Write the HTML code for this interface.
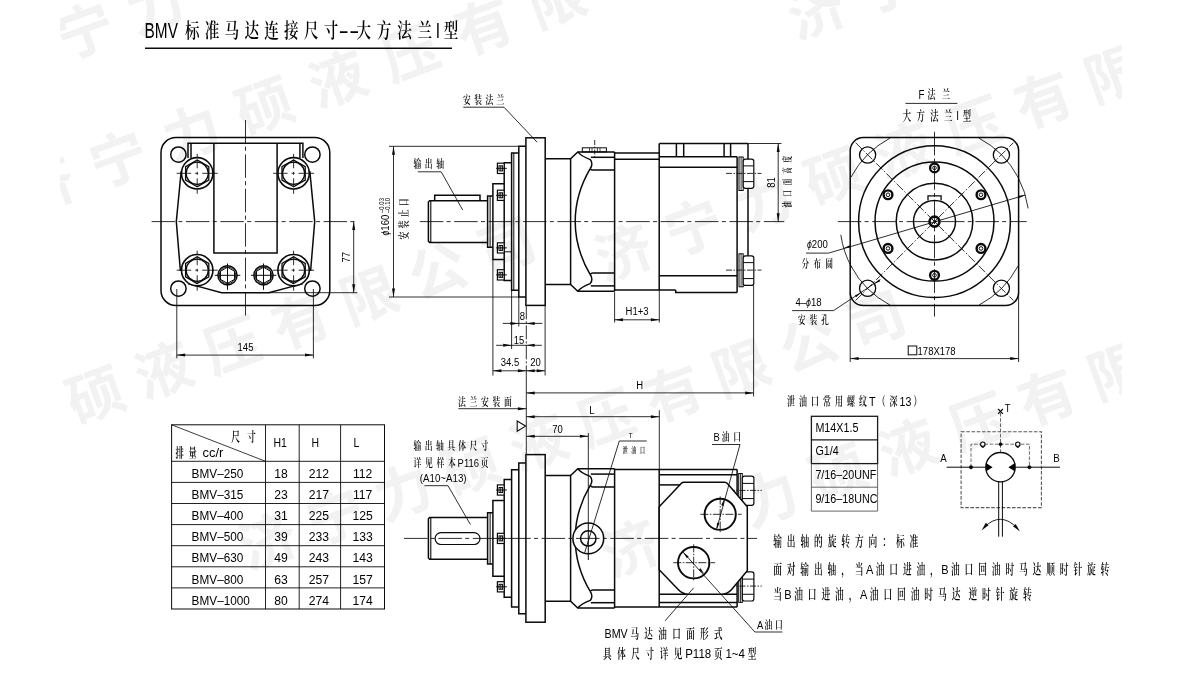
<!DOCTYPE html>
<html lang="zh-CN">
<head>
<meta charset="utf-8">
<title>BMV 标准马达连接尺寸--大方法兰I型</title>
<style>
html,body{margin:0;padding:0;background:#fff;}
body{width:1183px;height:686px;overflow:hidden;}
svg{display:block;filter:grayscale(1);}
text{white-space:pre;}
</style>
</head>
<body>
<svg width="1183" height="686" viewBox="0 0 1183 686">
<rect x="0" y="0" width="1183" height="686" fill="#fff"/>
<defs><clipPath id="wmclip"><rect x="60" y="0" width="1062" height="686"/></clipPath></defs>
<g id="wm" clip-path="url(#wmclip)">
<text transform="translate(-4.37,85.6) rotate(-20.0)" x="0 74.49 148.98" y="0" font-family='"Liberation Sans","Noto Sans CJK SC",sans-serif' font-weight="700" font-size="57" fill="#f2f2f2">济宁力</text>
<text transform="translate(26.13,215.1) rotate(-20.0)" x="0 77.68 155.37 233.05 310.74 388.42 466.11 543.79" y="0" font-family='"Liberation Sans","Noto Sans CJK SC",sans-serif' font-weight="700" font-size="57" fill="#f2f2f2">济宁力硕液压有限</text>
<text transform="translate(-129.87,499.5) rotate(-20.0)" x="0 72.9 145.79 218.69 291.58 364.48 437.38 510.27 583.17 656.07" y="0" font-family='"Liberation Sans","Noto Sans CJK SC",sans-serif' font-weight="700" font-size="57" fill="#f2f2f2">济宁力硕液压有限公司</text>
<text transform="translate(604.13,282.1) rotate(-20.0)" x="0 74.49 148.98 223.48 297.97 372.46 446.95 521.45" y="0" font-family='"Liberation Sans","Noto Sans CJK SC",sans-serif' font-weight="700" font-size="57" fill="#f2f2f2">济宁力硕液压有限</text>
<text transform="translate(248.33,570.3) rotate(-20.0)" x="0 71.94 143.88 215.82 287.75 359.69 431.63 503.57 575.51 647.45" y="0" font-family='"Liberation Sans","Noto Sans CJK SC",sans-serif' font-weight="700" font-size="57" fill="#f2f2f2">济宁力硕液压有限公司</text>
<text transform="translate(610.63,578.1) rotate(-20.0)" x="0 73.96 147.92 221.88 295.84 369.8 443.76 517.72" y="0" font-family='"Liberation Sans","Noto Sans CJK SC",sans-serif' font-weight="700" font-size="57" fill="#f2f2f2">济宁力硕液压有限</text>
<text transform="translate(796.63,40.1) rotate(-20.0)" x="0 74.49" y="0" font-family='"Liberation Sans","Noto Sans CJK SC",sans-serif' font-weight="700" font-size="57" fill="#f2f2f2">济宁</text>
</g>
<g transform="translate(144.6,38.2)"><text transform="translate(0,0) scale(0.7,1)" x="0" y="0" font-family='"Liberation Sans","Noto Sans CJK SC",sans-serif' font-size="22" fill="#000">BMV </text><text transform="scale(0.7,1)" x="57.56 85.9 114.24 142.59 170.93 199.27 227.61 255.95" y="0" font-family='"Liberation Serif","Noto Serif CJK SC",serif' font-size="20.8" font-weight="600" fill="#000">标准马达连接尺寸</text></g>
<text transform="translate(338.6,38.2) scale(1.42,1)" text-anchor="start" font-family='"Liberation Sans","Noto Sans CJK SC",sans-serif' font-size="22" fill="#000">--</text>
<g transform="translate(357.2,38.2)"><text transform="scale(0.7,1)" x="-1.04 28.04 57.12 86.19" y="0" font-family='"Liberation Serif","Noto Serif CJK SC",serif' font-size="20.8" font-weight="600" fill="#000">大方法兰</text><text transform="translate(78.59,0) scale(0.7,1)" x="0" y="0" font-family='"Liberation Sans","Noto Sans CJK SC",sans-serif' font-size="22" fill="#000">I</text><text transform="scale(0.7,1)" x="123.67" y="0" font-family='"Liberation Serif","Noto Serif CJK SC",serif' font-size="20.8" font-weight="600" fill="#000">型</text></g>
<line x1="145" y1="48.3" x2="452" y2="48.3" stroke="#0a0a0a" stroke-width="1.6" stroke-linecap="butt"/>
<g id="leftview">
<rect x="161" y="137.5" width="168.8" height="168" rx="15" fill="none" stroke="#0a0a0a" stroke-width="1.5"/>
<circle cx="178.4" cy="154.6" r="7.7" fill="none" stroke="#0a0a0a" stroke-width="1.5"/>
<circle cx="178.4" cy="288.6" r="7.7" fill="none" stroke="#0a0a0a" stroke-width="1.5"/>
<circle cx="312.4" cy="154.6" r="7.7" fill="none" stroke="#0a0a0a" stroke-width="1.5"/>
<circle cx="312.4" cy="288.6" r="7.7" fill="none" stroke="#0a0a0a" stroke-width="1.5"/>
<polyline points="188,158 188,143.3 302.9,143.3 302.9,158" fill="none" stroke="#0a0a0a" stroke-width="1.5" stroke-linejoin="miter"/>
<line x1="191" y1="143.3" x2="191" y2="158" stroke="#0a0a0a" stroke-width="1.5" stroke-linecap="butt"/>
<line x1="299.9" y1="143.3" x2="299.9" y2="158" stroke="#0a0a0a" stroke-width="1.5" stroke-linecap="butt"/>
<polyline points="213.9,143.3 213.9,252.9 277.1,252.9 277.1,143.3" fill="none" stroke="#0a0a0a" stroke-width="1.5" stroke-linejoin="miter"/>
<polyline points="181.2,171 176.3,221.6 180.4,271" fill="none" stroke="#0a0a0a" stroke-width="1.5" stroke-linejoin="miter"/>
<polyline points="309.8,171 314.7,221.6 310.6,271" fill="none" stroke="#0a0a0a" stroke-width="1.5" stroke-linejoin="miter"/>
<polyline points="188,283.6 221.6,292.7 268.8,292.7 303,283.6" fill="none" stroke="#0a0a0a" stroke-width="1.5" stroke-linejoin="miter"/>
<circle cx="197.2" cy="173.3" r="15.7" fill="#fff" stroke="#0a0a0a" stroke-width="1.6"/>
<polygon points="197.2,186.7 185.6,180 185.6,166.6 197.2,159.9 208.8,166.6 208.8,180" fill="none" stroke="#0a0a0a" stroke-width="1.3" stroke-linejoin="miter"/>
<circle cx="197.2" cy="173.3" r="11.1" fill="none" stroke="#0a0a0a" stroke-width="1.3"/>
<line x1="176.7" y1="173.3" x2="217.7" y2="173.3" stroke="#0a0a0a" stroke-width="0.85" stroke-dasharray="14.5 4 3 4 15.5" stroke-linecap="butt"/>
<line x1="197.2" y1="153.8" x2="197.2" y2="193.8" stroke="#0a0a0a" stroke-width="0.85" stroke-dasharray="4 2 8.5 3.5 3 3.5 8.5 2 5" stroke-linecap="butt"/>
<circle cx="197.2" cy="270.2" r="15.7" fill="#fff" stroke="#0a0a0a" stroke-width="1.6"/>
<polygon points="197.2,283.6 185.6,276.9 185.6,263.5 197.2,256.8 208.8,263.5 208.8,276.9" fill="none" stroke="#0a0a0a" stroke-width="1.3" stroke-linejoin="miter"/>
<circle cx="197.2" cy="270.2" r="11.1" fill="none" stroke="#0a0a0a" stroke-width="1.3"/>
<line x1="176.7" y1="270.2" x2="217.7" y2="270.2" stroke="#0a0a0a" stroke-width="0.85" stroke-dasharray="14.5 4 3 4 15.5" stroke-linecap="butt"/>
<line x1="197.2" y1="250.7" x2="197.2" y2="290.7" stroke="#0a0a0a" stroke-width="0.85" stroke-dasharray="4 2 8.5 3.5 3 3.5 8.5 2 5" stroke-linecap="butt"/>
<circle cx="293.6" cy="173.3" r="15.7" fill="#fff" stroke="#0a0a0a" stroke-width="1.6"/>
<polygon points="293.6,186.7 282,180 282,166.6 293.6,159.9 305.2,166.6 305.2,180" fill="none" stroke="#0a0a0a" stroke-width="1.3" stroke-linejoin="miter"/>
<circle cx="293.6" cy="173.3" r="11.1" fill="none" stroke="#0a0a0a" stroke-width="1.3"/>
<line x1="273.1" y1="173.3" x2="314.1" y2="173.3" stroke="#0a0a0a" stroke-width="0.85" stroke-dasharray="14.5 4 3 4 15.5" stroke-linecap="butt"/>
<line x1="293.6" y1="153.8" x2="293.6" y2="193.8" stroke="#0a0a0a" stroke-width="0.85" stroke-dasharray="4 2 8.5 3.5 3 3.5 8.5 2 5" stroke-linecap="butt"/>
<circle cx="293.6" cy="270.2" r="15.7" fill="#fff" stroke="#0a0a0a" stroke-width="1.6"/>
<polygon points="293.6,283.6 282,276.9 282,263.5 293.6,256.8 305.2,263.5 305.2,276.9" fill="none" stroke="#0a0a0a" stroke-width="1.3" stroke-linejoin="miter"/>
<circle cx="293.6" cy="270.2" r="11.1" fill="none" stroke="#0a0a0a" stroke-width="1.3"/>
<line x1="273.1" y1="270.2" x2="314.1" y2="270.2" stroke="#0a0a0a" stroke-width="0.85" stroke-dasharray="14.5 4 3 4 15.5" stroke-linecap="butt"/>
<line x1="293.6" y1="250.7" x2="293.6" y2="290.7" stroke="#0a0a0a" stroke-width="0.85" stroke-dasharray="4 2 8.5 3.5 3 3.5 8.5 2 5" stroke-linecap="butt"/>
<circle cx="227.5" cy="275.3" r="9.6" fill="#fff" stroke="#0a0a0a" stroke-width="1.5"/>
<circle cx="227.5" cy="275.3" r="8.3" fill="none" stroke="#0a0a0a" stroke-width="0.9"/>
<polygon points="227.5,283.4 220.49,279.35 220.49,271.25 227.5,267.2 234.51,271.25 234.51,279.35" fill="none" stroke="#0a0a0a" stroke-width="1.0" stroke-linejoin="miter"/>
<line x1="214.9" y1="275.3" x2="240.3" y2="275.3" stroke="#0a0a0a" stroke-width="1.0" stroke-linecap="butt"/>
<line x1="227.5" y1="263.5" x2="227.5" y2="289.8" stroke="#0a0a0a" stroke-width="1.0" stroke-linecap="butt"/>
<circle cx="263.5" cy="275.3" r="9.6" fill="#fff" stroke="#0a0a0a" stroke-width="1.5"/>
<circle cx="263.5" cy="275.3" r="8.3" fill="none" stroke="#0a0a0a" stroke-width="0.9"/>
<polygon points="263.5,283.4 256.49,279.35 256.49,271.25 263.5,267.2 270.51,271.25 270.51,279.35" fill="none" stroke="#0a0a0a" stroke-width="1.0" stroke-linejoin="miter"/>
<line x1="250.9" y1="275.3" x2="276.3" y2="275.3" stroke="#0a0a0a" stroke-width="1.0" stroke-linecap="butt"/>
<line x1="263.5" y1="263.5" x2="263.5" y2="289.8" stroke="#0a0a0a" stroke-width="1.0" stroke-linecap="butt"/>
<line x1="245.5" y1="120" x2="245.5" y2="318" stroke="#0a0a0a" stroke-width="0.85" stroke-dasharray="23.5 3.3 4 3.6" stroke-linecap="butt"/>
<line x1="151.6" y1="221.6" x2="357" y2="221.6" stroke="#0a0a0a" stroke-width="0.85" stroke-dasharray="23.5 3.3 4 3.6" stroke-linecap="butt"/>
<line x1="268.8" y1="292.7" x2="357.3" y2="292.7" stroke="#0a0a0a" stroke-width="0.85" stroke-linecap="butt"/>
<line x1="353.7" y1="221.6" x2="353.7" y2="292.7" stroke="#0a0a0a" stroke-width="0.85" stroke-linecap="butt"/>
<polygon points="353.7,221.6 355.2,230 352.2,230" fill="#0a0a0a"/>
<polygon points="353.7,292.7 352.2,284.3 355.2,284.3" fill="#0a0a0a"/>
<text transform="translate(350.2,257.2) rotate(-90) scale(0.84,1)" text-anchor="middle" font-family='"Liberation Sans","Noto Sans CJK SC",sans-serif' font-size="11.3" fill="#000">77</text>
<line x1="176.8" y1="289" x2="176.8" y2="358.3" stroke="#0a0a0a" stroke-width="0.85" stroke-linecap="butt"/>
<line x1="313.4" y1="289" x2="313.4" y2="358.3" stroke="#0a0a0a" stroke-width="0.85" stroke-linecap="butt"/>
<line x1="176.8" y1="355.1" x2="313.4" y2="355.1" stroke="#0a0a0a" stroke-width="0.85" stroke-linecap="butt"/>
<polygon points="176.8,355.1 185.2,353.6 185.2,356.6" fill="#0a0a0a"/>
<polygon points="313.4,355.1 305,356.6 305,353.6" fill="#0a0a0a"/>
<text transform="translate(245.5,350.6) scale(0.84,1)" text-anchor="middle" font-family='"Liberation Sans","Noto Sans CJK SC",sans-serif' font-size="11.3" fill="#000">145</text>
</g>
<g id="sidetop">
<polyline points="487.6,200.8 429.6,200.8 428.4,202 428.4,241.2 429.6,242.4 487.6,242.4" fill="none" stroke="#0a0a0a" stroke-width="1.5" stroke-linejoin="miter"/>
<line x1="430.8" y1="200.8" x2="430.8" y2="242.4" stroke="#0a0a0a" stroke-width="1.1" stroke-linecap="butt"/>
<polyline points="492.9,195.9 487.6,195.9 487.6,247.3 492.9,247.3" fill="none" stroke="#0a0a0a" stroke-width="1.5" stroke-linejoin="miter"/>
<line x1="490.1" y1="195.9" x2="490.1" y2="247.3" stroke="#0a0a0a" stroke-width="1.0" stroke-linecap="butt"/>
<polyline points="504.2,183.7 492.9,183.7 492.9,259.5 504.2,259.5" fill="none" stroke="#0a0a0a" stroke-width="1.5" stroke-linejoin="miter"/>
<polyline points="511.6,162.7 504.2,162.7 504.2,280.5 511.6,280.5" fill="none" stroke="#0a0a0a" stroke-width="1.5" stroke-linejoin="miter"/>
<polyline points="518.8,153 511.6,153 511.6,290.2 518.8,290.2" fill="none" stroke="#0a0a0a" stroke-width="1.5" stroke-linejoin="miter"/>
<line x1="513.8" y1="153" x2="513.8" y2="290.2" stroke="#0a0a0a" stroke-width="1.0" stroke-linecap="butt"/>
<polyline points="525.9,146.3 518.8,146.3 518.8,296.9 525.9,296.9" fill="none" stroke="#0a0a0a" stroke-width="1.5" stroke-linejoin="miter"/>
<rect x="525.9" y="137.8" width="19.3" height="167.6" rx="0" fill="none" stroke="#0a0a0a" stroke-width="1.5"/>
<polyline points="545.2,158.8 570.6,158.8 577.8,151.9 614.6,151.9" fill="none" stroke="#0a0a0a" stroke-width="1.5" stroke-linejoin="miter"/>
<polyline points="545.2,284.4 570.6,284.4 577.8,291.3 614.6,291.3" fill="none" stroke="#0a0a0a" stroke-width="1.5" stroke-linejoin="miter"/>
<line x1="570.6" y1="158.8" x2="570.6" y2="284.4" stroke="#0a0a0a" stroke-width="1.5" stroke-linecap="butt"/>
<line x1="614.6" y1="151.9" x2="614.6" y2="291.3" stroke="#0a0a0a" stroke-width="1.5" stroke-linecap="butt"/>
<path d="M577.8,151.9 C581,156 586,158 590.2,159.6 C592.4,162 592.4,166 590.2,168.6" fill="none" stroke="#0a0a0a" stroke-width="1.5"/>
<line x1="590.8" y1="157.3" x2="614.6" y2="157.3" stroke="#0a0a0a" stroke-width="1.5" stroke-linecap="butt"/>
<path d="M590.2,168.6 Q591,170.1 593,170.1 L614.6,170.1" fill="none" stroke="#0a0a0a" stroke-width="1.5"/>
<path d="M577.8,291.3 C581,287.2 586,285.2 590.2,283.6 C592.4,281.2 592.4,277.2 590.2,274.6" fill="none" stroke="#0a0a0a" stroke-width="1.5"/>
<line x1="590.8" y1="285.9" x2="614.6" y2="285.9" stroke="#0a0a0a" stroke-width="1.5" stroke-linecap="butt"/>
<path d="M590.2,274.6 Q591,273.1 593,273.1 L614.6,273.1" fill="none" stroke="#0a0a0a" stroke-width="1.5"/>
<path d="M590.2,168.6 C580,186 575.2,205 575.2,221.6 C575.2,238.2 580,257.2 590.2,274.6" fill="none" stroke="#0a0a0a" stroke-width="1.5"/>
<polyline points="434.7,200.8 434.7,195.3 480,195.3 480,200.8" fill="none" stroke="#0a0a0a" stroke-width="1.5" stroke-linejoin="miter"/>
<rect x="497.4" y="163.2" width="6.8" height="10.3" rx="0" fill="#fff" stroke="#0a0a0a" stroke-width="1.2"/>
<rect x="499" y="165.8" width="3.6" height="5.1" rx="0" fill="none" stroke="#0a0a0a" stroke-width="1.0"/>
<line x1="496.2" y1="168.35" x2="506.8" y2="168.35" stroke="#0a0a0a" stroke-width="1.0" stroke-linecap="butt"/>
<line x1="500.8" y1="165.8" x2="500.8" y2="170.9" stroke="#0a0a0a" stroke-width="1.0" stroke-linecap="butt"/>
<rect x="497.4" y="190.2" width="6.8" height="10.2" rx="0" fill="#fff" stroke="#0a0a0a" stroke-width="1.2"/>
<rect x="499" y="192.8" width="3.6" height="5" rx="0" fill="none" stroke="#0a0a0a" stroke-width="1.0"/>
<line x1="496.2" y1="195.3" x2="506.8" y2="195.3" stroke="#0a0a0a" stroke-width="1.0" stroke-linecap="butt"/>
<line x1="500.8" y1="192.8" x2="500.8" y2="197.8" stroke="#0a0a0a" stroke-width="1.0" stroke-linecap="butt"/>
<rect x="497.4" y="242.8" width="6.8" height="10.2" rx="0" fill="#fff" stroke="#0a0a0a" stroke-width="1.2"/>
<rect x="499" y="245.4" width="3.6" height="5" rx="0" fill="none" stroke="#0a0a0a" stroke-width="1.0"/>
<line x1="496.2" y1="247.9" x2="506.8" y2="247.9" stroke="#0a0a0a" stroke-width="1.0" stroke-linecap="butt"/>
<line x1="500.8" y1="245.4" x2="500.8" y2="250.4" stroke="#0a0a0a" stroke-width="1.0" stroke-linecap="butt"/>
<rect x="497.4" y="269.7" width="6.8" height="10.3" rx="0" fill="#fff" stroke="#0a0a0a" stroke-width="1.2"/>
<rect x="499" y="272.3" width="3.6" height="5.1" rx="0" fill="none" stroke="#0a0a0a" stroke-width="1.0"/>
<line x1="496.2" y1="274.85" x2="506.8" y2="274.85" stroke="#0a0a0a" stroke-width="1.0" stroke-linecap="butt"/>
<line x1="500.8" y1="272.3" x2="500.8" y2="277.4" stroke="#0a0a0a" stroke-width="1.0" stroke-linecap="butt"/>
<line x1="504.2" y1="251.8" x2="511.6" y2="251.8" stroke="#0a0a0a" stroke-width="1.0" stroke-linecap="butt"/>
<rect x="582.3" y="147.8" width="24.1" height="4.1" rx="0" fill="none" stroke="#0a0a0a" stroke-width="1.0"/>
<line x1="589.5" y1="148" x2="589.5" y2="151.9" stroke="#0a0a0a" stroke-width="0.7" stroke-linecap="butt"/>
<line x1="592" y1="148" x2="592" y2="151.9" stroke="#0a0a0a" stroke-width="0.7" stroke-linecap="butt"/>
<line x1="597.4" y1="148" x2="597.4" y2="151.9" stroke="#0a0a0a" stroke-width="0.7" stroke-linecap="butt"/>
<line x1="600" y1="148" x2="600" y2="151.9" stroke="#0a0a0a" stroke-width="0.7" stroke-linecap="butt"/>
<line x1="594.7" y1="140" x2="594.7" y2="158.5" stroke="#0a0a0a" stroke-width="0.85" stroke-dasharray="5 1.5 1.5 1.5" stroke-linecap="butt"/>
<line x1="614.6" y1="153" x2="659.2" y2="153" stroke="#0a0a0a" stroke-width="1.5" stroke-linecap="butt"/>
<line x1="614.6" y1="159.2" x2="659.2" y2="159.2" stroke="#0a0a0a" stroke-width="1.5" stroke-linecap="butt"/>
<line x1="614.6" y1="290.1" x2="675.7" y2="290.1" stroke="#0a0a0a" stroke-width="1.5" stroke-linecap="butt"/>
<polyline points="675.7,290.1 675.7,292.6 737.1,292.6" fill="none" stroke="#0a0a0a" stroke-width="1.5" stroke-linejoin="miter"/>
<line x1="659.2" y1="143.5" x2="659.2" y2="290.1" stroke="#0a0a0a" stroke-width="1.5" stroke-linecap="butt"/>
<polyline points="659.2,143.5 748,143.5" fill="none" stroke="#0a0a0a" stroke-width="1.5" stroke-linejoin="miter"/>
<line x1="676.4" y1="143.5" x2="676.4" y2="156.7" stroke="#0a0a0a" stroke-width="1.5" stroke-linecap="butt"/>
<line x1="683.7" y1="143.5" x2="683.7" y2="156.7" stroke="#0a0a0a" stroke-width="1.5" stroke-linecap="butt"/>
<line x1="724.1" y1="143.5" x2="724.1" y2="156.7" stroke="#0a0a0a" stroke-width="1.5" stroke-linecap="butt"/>
<line x1="730.6" y1="143.5" x2="730.6" y2="156.7" stroke="#0a0a0a" stroke-width="1.5" stroke-linecap="butt"/>
<line x1="659.2" y1="156.7" x2="737.1" y2="156.7" stroke="#0a0a0a" stroke-width="1.5" stroke-linecap="butt"/>
<line x1="659.2" y1="167.2" x2="737.1" y2="167.2" stroke="#0a0a0a" stroke-width="1.5" stroke-linecap="butt"/>
<line x1="737.1" y1="156.7" x2="737.1" y2="292.6" stroke="#0a0a0a" stroke-width="1.5" stroke-linecap="butt"/>
<line x1="748" y1="143.5" x2="748" y2="256" stroke="#0a0a0a" stroke-width="1.5" stroke-linecap="butt"/>
<line x1="659.2" y1="275.8" x2="737.1" y2="275.8" stroke="#0a0a0a" stroke-width="1.5" stroke-linecap="butt"/>
<rect x="739" y="157" width="4.2" height="33.5" rx="0" fill="#fff" stroke="#0a0a0a" stroke-width="1.0"/>
<line x1="741.1" y1="157" x2="741.1" y2="190.5" stroke="#0a0a0a" stroke-width="0.8" stroke-linecap="butt"/>
<rect x="743.2" y="159.2" width="10.6" height="29.1" rx="2.2" fill="#fff" stroke="#0a0a0a" stroke-width="1.2"/>
<line x1="743.2" y1="165.89" x2="753.8" y2="165.89" stroke="#0a0a0a" stroke-width="1.0" stroke-linecap="butt"/>
<line x1="743.2" y1="181.61" x2="753.8" y2="181.61" stroke="#0a0a0a" stroke-width="1.0" stroke-linecap="butt"/>
<line x1="726" y1="173.4" x2="761.5" y2="173.4" stroke="#0a0a0a" stroke-width="0.85" stroke-dasharray="6 1.5 1.5 1.5" stroke-linecap="butt"/>
<rect x="739" y="253.8" width="4.2" height="33" rx="0" fill="#fff" stroke="#0a0a0a" stroke-width="1.0"/>
<line x1="741.1" y1="253.8" x2="741.1" y2="286.8" stroke="#0a0a0a" stroke-width="0.8" stroke-linecap="butt"/>
<rect x="743.2" y="255.8" width="10.6" height="29.6" rx="2.2" fill="#fff" stroke="#0a0a0a" stroke-width="1.2"/>
<line x1="743.2" y1="262.61" x2="753.8" y2="262.61" stroke="#0a0a0a" stroke-width="1.0" stroke-linecap="butt"/>
<line x1="743.2" y1="278.59" x2="753.8" y2="278.59" stroke="#0a0a0a" stroke-width="1.0" stroke-linecap="butt"/>
<line x1="726" y1="270.1" x2="761.5" y2="270.1" stroke="#0a0a0a" stroke-width="0.85" stroke-dasharray="6 1.5 1.5 1.5" stroke-linecap="butt"/>
<line x1="419.8" y1="221.6" x2="784.3" y2="221.6" stroke="#0a0a0a" stroke-width="0.85" stroke-dasharray="23.5 3.3 4 3.6" stroke-linecap="butt"/>
<g transform="translate(463.4,104.4)"><text transform="scale(0.66,1)" x="-0.59 16.38 33.34 50.31" y="0" font-family='"Liberation Serif","Noto Serif CJK SC",serif' font-size="11.8" font-weight="600" fill="#000">安装法兰</text></g>
<polyline points="463.3,107.2 504,107.2 537.1,142.2" fill="none" stroke="#0a0a0a" stroke-width="0.85" stroke-linejoin="miter"/>
<g transform="translate(413.8,168.2)"><text transform="scale(0.66,1)" x="-0.59 16.68 33.94" y="0" font-family='"Liberation Serif","Noto Serif CJK SC",serif' font-size="11.8" font-weight="600" fill="#000">输出轴</text></g>
<polyline points="417.8,171.8 441.2,171.8 462.7,210" fill="none" stroke="#0a0a0a" stroke-width="0.85" stroke-linejoin="miter"/>
<line x1="389" y1="146.3" x2="518.8" y2="146.3" stroke="#0a0a0a" stroke-width="0.85" stroke-linecap="butt"/>
<line x1="389" y1="297" x2="518.8" y2="297" stroke="#0a0a0a" stroke-width="0.85" stroke-linecap="butt"/>
<line x1="393.5" y1="146.3" x2="393.5" y2="297" stroke="#0a0a0a" stroke-width="0.85" stroke-linecap="butt"/>
<polygon points="393.5,146.3 395,154.7 392,154.7" fill="#0a0a0a"/>
<polygon points="393.5,297 392,288.6 395,288.6" fill="#0a0a0a"/>
<text transform="translate(388.8,235.6) rotate(-90) scale(0.88,1)" font-family='"Liberation Sans","Noto Sans CJK SC",sans-serif' font-size="10.9" fill="#000"><tspan font-style="italic" font-size="10.03">ϕ</tspan>160</text>
<text transform="translate(384.2,213) rotate(-90) scale(0.86,1)" text-anchor="start" font-family='"Liberation Sans","Noto Sans CJK SC",sans-serif' font-size="7" fill="#000">–0.03</text>
<text transform="translate(390.4,213) rotate(-90) scale(0.86,1)" text-anchor="start" font-family='"Liberation Sans","Noto Sans CJK SC",sans-serif' font-size="7" fill="#000">–0.10</text>
<g transform="translate(407.8,239) rotate(-90)"><text transform="scale(0.66,1)" x="-0.59 16.17 32.94 49.7" y="0" font-family='"Liberation Serif","Noto Serif CJK SC",serif' font-size="11.8" font-weight="600" fill="#000">安装止口</text></g>
<line x1="748" y1="143.5" x2="781.5" y2="143.5" stroke="#0a0a0a" stroke-width="0.85" stroke-linecap="butt"/>
<line x1="778.2" y1="143.5" x2="778.2" y2="221.6" stroke="#0a0a0a" stroke-width="0.85" stroke-linecap="butt"/>
<polygon points="778.2,143.5 779.7,151.9 776.7,151.9" fill="#0a0a0a"/>
<polygon points="778.2,221.6 776.7,213.2 779.7,213.2" fill="#0a0a0a"/>
<text transform="translate(775,182.5) rotate(-90) scale(0.84,1)" text-anchor="middle" font-family='"Liberation Sans","Noto Sans CJK SC",sans-serif' font-size="11.3" fill="#000">81</text>
<g transform="translate(791.2,207.4) rotate(-90)"><text transform="scale(0.62,1)" x="-0.52 17.7 35.93 54.15 72.38" y="0" font-family='"Liberation Serif","Noto Serif CJK SC",serif' font-size="10.4" font-weight="600" fill="#000">油口面高度</text></g>
<line x1="492.9" y1="259.5" x2="492.9" y2="375.5" stroke="#0a0a0a" stroke-width="0.85" stroke-linecap="butt"/>
<line x1="511.6" y1="290.2" x2="511.6" y2="349" stroke="#0a0a0a" stroke-width="0.85" stroke-linecap="butt"/>
<line x1="518.8" y1="297" x2="518.8" y2="326.5" stroke="#0a0a0a" stroke-width="0.85" stroke-linecap="butt"/>
<line x1="545.1" y1="305.4" x2="545.1" y2="375.5" stroke="#0a0a0a" stroke-width="0.85" stroke-linecap="butt"/>
<line x1="502.8" y1="323.4" x2="542.3" y2="323.4" stroke="#0a0a0a" stroke-width="0.85" stroke-linecap="butt"/>
<polygon points="518.8,323.4 510.4,324.9 510.4,321.9" fill="#0a0a0a"/>
<polygon points="526.3,323.4 534.7,321.9 534.7,324.9" fill="#0a0a0a"/>
<text transform="translate(522.4,320.2) scale(0.84,1)" text-anchor="middle" font-family='"Liberation Sans","Noto Sans CJK SC",sans-serif' font-size="11.3" fill="#000">8</text>
<line x1="496.1" y1="345.3" x2="541.8" y2="345.3" stroke="#0a0a0a" stroke-width="0.85" stroke-linecap="butt"/>
<polygon points="511.6,345.3 503.2,346.8 503.2,343.8" fill="#0a0a0a"/>
<polygon points="526.3,345.3 534.7,343.8 534.7,346.8" fill="#0a0a0a"/>
<text transform="translate(518.9,343.6) scale(0.84,1)" text-anchor="middle" font-family='"Liberation Sans","Noto Sans CJK SC",sans-serif' font-size="11.3" fill="#000">15</text>
<line x1="493" y1="370.8" x2="545.1" y2="370.8" stroke="#0a0a0a" stroke-width="0.85" stroke-linecap="butt"/>
<polygon points="493,370.8 501.4,369.3 501.4,372.3" fill="#0a0a0a"/>
<polygon points="526.3,370.8 517.9,372.3 517.9,369.3" fill="#0a0a0a"/>
<polygon points="526.3,370.8 534.7,369.3 534.7,372.3" fill="#0a0a0a"/>
<polygon points="545.1,370.8 536.7,372.3 536.7,369.3" fill="#0a0a0a"/>
<text transform="translate(510,366.4) scale(0.84,1)" text-anchor="middle" font-family='"Liberation Sans","Noto Sans CJK SC",sans-serif' font-size="11.3" fill="#000">34.5</text>
<text transform="translate(535.6,366.4) scale(0.84,1)" text-anchor="middle" font-family='"Liberation Sans","Noto Sans CJK SC",sans-serif' font-size="11.3" fill="#000">20</text>
<line x1="614.6" y1="292.1" x2="614.6" y2="322.5" stroke="#0a0a0a" stroke-width="0.85" stroke-linecap="butt"/>
<line x1="659.3" y1="290.1" x2="659.3" y2="322.5" stroke="#0a0a0a" stroke-width="0.85" stroke-linecap="butt"/>
<line x1="614.6" y1="319.8" x2="659.3" y2="319.8" stroke="#0a0a0a" stroke-width="0.85" stroke-linecap="butt"/>
<polygon points="614.6,319.8 623,318.3 623,321.3" fill="#0a0a0a"/>
<polygon points="659.3,319.8 650.9,321.3 650.9,318.3" fill="#0a0a0a"/>
<text transform="translate(637,315.4) scale(0.84,1)" text-anchor="middle" font-family='"Liberation Sans","Noto Sans CJK SC",sans-serif' font-size="11.3" fill="#000">H1+3</text>
</g>
<line x1="526.3" y1="305.4" x2="526.3" y2="372" stroke="#0a0a0a" stroke-width="0.85" stroke-dasharray="14 2 2 2" stroke-linecap="butt"/>
<line x1="526.3" y1="372" x2="526.3" y2="454.7" stroke="#0a0a0a" stroke-width="0.85" stroke-linecap="butt"/>
<line x1="753.6" y1="285.4" x2="753.6" y2="396.5" stroke="#0a0a0a" stroke-width="0.85" stroke-linecap="butt"/>
<line x1="526.3" y1="392.9" x2="753.6" y2="392.9" stroke="#0a0a0a" stroke-width="0.85" stroke-linecap="butt"/>
<polygon points="526.3,392.9 534.7,391.4 534.7,394.4" fill="#0a0a0a"/>
<polygon points="753.6,392.9 745.2,394.4 745.2,391.4" fill="#0a0a0a"/>
<text transform="translate(639.6,389.2) scale(0.84,1)" text-anchor="middle" font-family='"Liberation Sans","Noto Sans CJK SC",sans-serif' font-size="11.3" fill="#000">H</text>
<line x1="659.3" y1="410.2" x2="659.3" y2="469.5" stroke="#0a0a0a" stroke-width="0.85" stroke-linecap="butt"/>
<line x1="526.3" y1="416.7" x2="659.3" y2="416.7" stroke="#0a0a0a" stroke-width="0.85" stroke-linecap="butt"/>
<polygon points="526.3,416.7 534.7,415.2 534.7,418.2" fill="#0a0a0a"/>
<polygon points="659.3,416.7 650.9,418.2 650.9,415.2" fill="#0a0a0a"/>
<text transform="translate(592,414.4) scale(0.84,1)" text-anchor="middle" font-family='"Liberation Sans","Noto Sans CJK SC",sans-serif' font-size="11.3" fill="#000">L</text>
<line x1="588.3" y1="433" x2="588.3" y2="523" stroke="#0a0a0a" stroke-width="0.85" stroke-linecap="butt"/>
<line x1="526.3" y1="436.3" x2="588.3" y2="436.3" stroke="#0a0a0a" stroke-width="0.85" stroke-linecap="butt"/>
<polygon points="526.3,436.3 534.7,434.8 534.7,437.8" fill="#0a0a0a"/>
<polygon points="588.3,436.3 579.9,437.8 579.9,434.8" fill="#0a0a0a"/>
<text transform="translate(557.4,432.8) scale(0.84,1)" text-anchor="middle" font-family='"Liberation Sans","Noto Sans CJK SC",sans-serif' font-size="11.3" fill="#000">70</text>
<g transform="translate(458.5,405.6)"><text transform="scale(0.66,1)" x="-0.59 16.79 34.18 51.56 68.94" y="0" font-family='"Liberation Serif","Noto Serif CJK SC",serif' font-size="11.8" font-weight="600" fill="#000">法兰安装面</text></g>
<line x1="458.4" y1="408.7" x2="526.3" y2="408.7" stroke="#0a0a0a" stroke-width="0.85" stroke-linecap="butt"/>
<polygon points="526.3,408.7 517.9,410.2 517.9,407.2" fill="#0a0a0a"/>
<polygon points="517.2,421 525.6,426.1 517.2,431.2" fill="none" stroke="#0a0a0a" stroke-width="1.1" stroke-linejoin="miter"/>
<g id="sidelow">
<polyline points="487.6,517.6 429.6,517.6 428.4,518.8 428.4,558 429.6,559.2 487.6,559.2" fill="none" stroke="#0a0a0a" stroke-width="1.5" stroke-linejoin="miter"/>
<line x1="430.8" y1="517.6" x2="430.8" y2="559.2" stroke="#0a0a0a" stroke-width="1.1" stroke-linecap="butt"/>
<polyline points="492.9,512.7 487.6,512.7 487.6,564.1 492.9,564.1" fill="none" stroke="#0a0a0a" stroke-width="1.5" stroke-linejoin="miter"/>
<line x1="490.1" y1="512.7" x2="490.1" y2="564.1" stroke="#0a0a0a" stroke-width="1.0" stroke-linecap="butt"/>
<polyline points="504.2,500.5 492.9,500.5 492.9,576.3 504.2,576.3" fill="none" stroke="#0a0a0a" stroke-width="1.5" stroke-linejoin="miter"/>
<polyline points="511.6,479.5 504.2,479.5 504.2,597.3 511.6,597.3" fill="none" stroke="#0a0a0a" stroke-width="1.5" stroke-linejoin="miter"/>
<polyline points="518.8,469.8 511.6,469.8 511.6,607 518.8,607" fill="none" stroke="#0a0a0a" stroke-width="1.5" stroke-linejoin="miter"/>
<polyline points="525.9,463.1 518.8,463.1 518.8,613.7 525.9,613.7" fill="none" stroke="#0a0a0a" stroke-width="1.5" stroke-linejoin="miter"/>
<rect x="525.9" y="454.6" width="19.3" height="167.6" rx="0" fill="none" stroke="#0a0a0a" stroke-width="1.5"/>
<polyline points="545.2,475.6 570.6,475.6 577.8,468.7 614.6,468.7" fill="none" stroke="#0a0a0a" stroke-width="1.5" stroke-linejoin="miter"/>
<polyline points="545.2,601.2 570.6,601.2 577.8,608.1 614.6,608.1" fill="none" stroke="#0a0a0a" stroke-width="1.5" stroke-linejoin="miter"/>
<line x1="570.6" y1="475.6" x2="570.6" y2="601.2" stroke="#0a0a0a" stroke-width="1.5" stroke-linecap="butt"/>
<line x1="614.6" y1="468.7" x2="614.6" y2="608.1" stroke="#0a0a0a" stroke-width="1.5" stroke-linecap="butt"/>
<path d="M577.8,468.7 C581,472.8 586,474.8 590.2,476.4 C592.4,478.8 592.4,482.8 590.2,485.4" fill="none" stroke="#0a0a0a" stroke-width="1.5"/>
<line x1="590.8" y1="474.1" x2="614.6" y2="474.1" stroke="#0a0a0a" stroke-width="1.5" stroke-linecap="butt"/>
<path d="M590.2,485.4 Q591,486.9 593,486.9 L614.6,486.9" fill="none" stroke="#0a0a0a" stroke-width="1.5"/>
<path d="M577.8,608.1 C581,604 586,602 590.2,600.4 C592.4,598 592.4,594 590.2,591.4" fill="none" stroke="#0a0a0a" stroke-width="1.5"/>
<line x1="590.8" y1="602.7" x2="614.6" y2="602.7" stroke="#0a0a0a" stroke-width="1.5" stroke-linecap="butt"/>
<path d="M590.2,591.4 Q591,589.9 593,589.9 L614.6,589.9" fill="none" stroke="#0a0a0a" stroke-width="1.5"/>
<path d="M590.2,485.4 C580,502.8 575.2,521.8 575.2,538.4 C575.2,555 580,574 590.2,591.4" fill="none" stroke="#0a0a0a" stroke-width="1.5"/>
<rect x="435.1" y="532.6" width="44.9" height="11.9" rx="5.9" fill="none" stroke="#0a0a0a" stroke-width="1.2"/>
<rect x="497.4" y="484.9" width="6.8" height="10.2" rx="0" fill="#fff" stroke="#0a0a0a" stroke-width="1.2"/>
<rect x="499" y="487.5" width="3.6" height="5" rx="0" fill="none" stroke="#0a0a0a" stroke-width="1.0"/>
<line x1="496.2" y1="490" x2="506.8" y2="490" stroke="#0a0a0a" stroke-width="1.0" stroke-linecap="butt"/>
<line x1="500.8" y1="487.5" x2="500.8" y2="492.5" stroke="#0a0a0a" stroke-width="1.0" stroke-linecap="butt"/>
<rect x="497.4" y="533.3" width="6.8" height="10.2" rx="0" fill="#fff" stroke="#0a0a0a" stroke-width="1.2"/>
<rect x="499" y="535.9" width="3.6" height="5" rx="0" fill="none" stroke="#0a0a0a" stroke-width="1.0"/>
<line x1="496.2" y1="538.4" x2="506.8" y2="538.4" stroke="#0a0a0a" stroke-width="1.0" stroke-linecap="butt"/>
<line x1="500.8" y1="535.9" x2="500.8" y2="540.9" stroke="#0a0a0a" stroke-width="1.0" stroke-linecap="butt"/>
<rect x="497.4" y="581.7" width="6.8" height="10.2" rx="0" fill="#fff" stroke="#0a0a0a" stroke-width="1.2"/>
<rect x="499" y="584.3" width="3.6" height="5" rx="0" fill="none" stroke="#0a0a0a" stroke-width="1.0"/>
<line x1="496.2" y1="586.8" x2="506.8" y2="586.8" stroke="#0a0a0a" stroke-width="1.0" stroke-linecap="butt"/>
<line x1="500.8" y1="584.3" x2="500.8" y2="589.3" stroke="#0a0a0a" stroke-width="1.0" stroke-linecap="butt"/>
<line x1="614.6" y1="469.5" x2="737.1" y2="469.5" stroke="#0a0a0a" stroke-width="1.5" stroke-linecap="butt"/>
<line x1="659.2" y1="474.7" x2="737.1" y2="474.7" stroke="#0a0a0a" stroke-width="1.5" stroke-linecap="butt"/>
<line x1="614.6" y1="607.1" x2="737.1" y2="607.1" stroke="#0a0a0a" stroke-width="1.5" stroke-linecap="butt"/>
<line x1="659.2" y1="602.4" x2="737.1" y2="602.4" stroke="#0a0a0a" stroke-width="1.5" stroke-linecap="butt"/>
<line x1="659.2" y1="469.5" x2="659.2" y2="607.1" stroke="#0a0a0a" stroke-width="1.5" stroke-linecap="butt"/>
<line x1="737.1" y1="469.5" x2="737.1" y2="607.1" stroke="#0a0a0a" stroke-width="1.5" stroke-linecap="butt"/>
<line x1="659.2" y1="484.9" x2="680" y2="484.9" stroke="#0a0a0a" stroke-width="1.5" stroke-linecap="butt"/>
<line x1="659.2" y1="594.3" x2="737.1" y2="594.3" stroke="#0a0a0a" stroke-width="1.5" stroke-linecap="butt"/>
<rect x="738.7" y="473.5" width="3.6" height="26.1" rx="0" fill="#fff" stroke="#0a0a0a" stroke-width="1.0"/>
<line x1="740.5" y1="473.5" x2="740.5" y2="499.6" stroke="#0a0a0a" stroke-width="0.8" stroke-linecap="butt"/>
<rect x="742.3" y="476.1" width="11.6" height="29.2" rx="2.2" fill="#fff" stroke="#0a0a0a" stroke-width="1.2"/>
<line x1="742.3" y1="483.4" x2="753.9" y2="483.4" stroke="#0a0a0a" stroke-width="1.0" stroke-linecap="butt"/>
<line x1="742.3" y1="498.58" x2="753.9" y2="498.58" stroke="#0a0a0a" stroke-width="1.0" stroke-linecap="butt"/>
<line x1="729" y1="490.4" x2="761.8" y2="490.4" stroke="#0a0a0a" stroke-width="0.85" stroke-dasharray="6 1.5 1.5 1.5" stroke-linecap="butt"/>
<rect x="738.7" y="575.9" width="3.6" height="26.5" rx="0" fill="#fff" stroke="#0a0a0a" stroke-width="1.0"/>
<line x1="740.5" y1="575.9" x2="740.5" y2="602.4" stroke="#0a0a0a" stroke-width="0.8" stroke-linecap="butt"/>
<rect x="742.3" y="571.8" width="11.6" height="29.2" rx="2.2" fill="#fff" stroke="#0a0a0a" stroke-width="1.2"/>
<line x1="742.3" y1="579.1" x2="753.9" y2="579.1" stroke="#0a0a0a" stroke-width="1.0" stroke-linecap="butt"/>
<line x1="742.3" y1="594.28" x2="753.9" y2="594.28" stroke="#0a0a0a" stroke-width="1.0" stroke-linecap="butt"/>
<line x1="729" y1="586.1" x2="761.8" y2="586.1" stroke="#0a0a0a" stroke-width="0.85" stroke-dasharray="6 1.5 1.5 1.5" stroke-linecap="butt"/>
<path d="M659.2,506.7 L681.2,483.4 Q682.4,482.2 684,482.2 L724.6,482.2 Q726.3,482.2 727.4,483.5 L747.3,506.7 L747.3,570.8 L731.6,589.4 Q727.3,594.3 721,594.3 L688.6,594.3 Q682.4,594.3 678.2,589.6 L659.2,569.8 Z" fill="#fff" stroke="#0a0a0a" stroke-width="1.5"/>
<circle cx="720.2" cy="514.3" r="15.6" fill="none" stroke="#0a0a0a" stroke-width="1.9"/>
<line x1="700.4" y1="514.3" x2="741.6" y2="514.3" stroke="#0a0a0a" stroke-width="0.85" stroke-dasharray="8 1.5 1.5 1.5" stroke-linecap="butt"/>
<line x1="720.2" y1="496.5" x2="720.2" y2="532.2" stroke="#0a0a0a" stroke-width="0.85" stroke-dasharray="8 1.5 1.5 1.5" stroke-linecap="butt"/>
<circle cx="693.7" cy="562.7" r="15.7" fill="none" stroke="#0a0a0a" stroke-width="1.9"/>
<line x1="673.3" y1="562.7" x2="715.1" y2="562.7" stroke="#0a0a0a" stroke-width="0.85" stroke-dasharray="8 1.5 1.5 1.5" stroke-linecap="butt"/>
<line x1="693.7" y1="544.3" x2="693.7" y2="581" stroke="#0a0a0a" stroke-width="0.85" stroke-dasharray="8 1.5 1.5 1.5" stroke-linecap="butt"/>
<circle cx="588.3" cy="538.4" r="15.4" fill="#fff" stroke="#0a0a0a" stroke-width="1.5"/>
<circle cx="588.3" cy="538.4" r="7.7" fill="none" stroke="#0a0a0a" stroke-width="1.5"/>
<line x1="588.3" y1="523" x2="588.3" y2="560" stroke="#0a0a0a" stroke-width="1.0" stroke-linecap="butt"/>
<line x1="404" y1="538.4" x2="757" y2="538.4" stroke="#0a0a0a" stroke-width="0.85" stroke-dasharray="23.5 3.3 4 3.6" stroke-linecap="butt"/>
<g transform="translate(413.9,449.6)"><text transform="scale(0.66,1)" x="-0.59 16.4 33.4 50.39 67.38 84.37 101.37" y="0" font-family='"Liberation Serif","Noto Serif CJK SC",serif' font-size="11.8" font-weight="600" fill="#000">输出轴具体尺寸</text></g>
<g transform="translate(413.9,466.8)"><text transform="scale(0.66,1)" x="-0.59 16.81 34.22 51.62" y="0" font-family='"Liberation Serif","Noto Serif CJK SC",serif' font-size="11.8" font-weight="600" fill="#000">详见样本</text><text transform="translate(43.71,0) scale(0.8,1)" x="0" y="0" font-family='"Liberation Sans","Noto Sans CJK SC",sans-serif' font-size="11.8" fill="#000">P116</text><text transform="scale(0.66,1)" x="101.37" y="0" font-family='"Liberation Serif","Noto Serif CJK SC",serif' font-size="11.8" font-weight="600" fill="#000">页</text></g>
<text transform="translate(419.8,481.9) scale(0.84,1)" text-anchor="start" font-family='"Liberation Sans","Noto Sans CJK SC",sans-serif' font-size="11.6" fill="#000">(A10~A13)</text>
<polyline points="424.5,485.7 448,485.7 470.4,524.5" fill="none" stroke="#0a0a0a" stroke-width="0.85" stroke-linejoin="miter"/>
<text transform="translate(630.8,438.2) scale(0.85,1)" text-anchor="middle" font-family='"Liberation Sans","Noto Sans CJK SC",sans-serif' font-size="7.6" fill="#000">T</text>
<polyline points="646.7,441 619.3,441 584.7,552.7" fill="none" stroke="#0a0a0a" stroke-width="0.85" stroke-linejoin="miter"/>
<g transform="translate(622.9,453.4)"><text transform="scale(0.66,1)" x="-0.38 12.72 25.81" y="0" font-family='"Liberation Serif","Noto Serif CJK SC",serif' font-size="7.6" font-weight="600" fill="#000">泄油口</text></g>
<g transform="translate(713.5,441.2)"><text transform="translate(0,0) scale(0.8,1)" x="0" y="0" font-family='"Liberation Sans","Noto Sans CJK SC",sans-serif' font-size="11.8" fill="#000">B</text><text transform="scale(0.66,1)" x="12.38 29.85" y="0" font-family='"Liberation Serif","Noto Serif CJK SC",serif' font-size="11.8" font-weight="600" fill="#000">油口</text></g>
<polyline points="712,444.5 740,444.5 716.9,528.2" fill="none" stroke="#0a0a0a" stroke-width="0.85" stroke-linejoin="miter"/>
<polygon points="716.4,529.8 717.11,522.73 719.43,523.38" fill="#0a0a0a"/>
<polygon points="724.2,498.9 723.49,505.97 721.17,505.32" fill="#0a0a0a"/>
<g transform="translate(756.9,629.2)"><text transform="translate(0,0) scale(0.8,1)" x="0" y="0" font-family='"Liberation Sans","Noto Sans CJK SC",sans-serif' font-size="11.8" fill="#000">A</text><text transform="scale(0.66,1)" x="11.57 27.43" y="0" font-family='"Liberation Serif","Noto Serif CJK SC",serif' font-size="11.8" font-weight="600" fill="#000">油口</text></g>
<polyline points="682.6,551.6 754.9,632 782.4,632" fill="none" stroke="#0a0a0a" stroke-width="0.85" stroke-linejoin="miter"/>
<polygon points="683.1,552.2 688.68,556.6 686.89,558.2" fill="#0a0a0a"/>
<polygon points="704.4,574.2 698.82,569.8 700.61,568.2" fill="#0a0a0a"/>
<line x1="693.7" y1="587.8" x2="665.1" y2="620.8" stroke="#0a0a0a" stroke-width="0.85" stroke-linecap="butt"/>
<g transform="translate(604.5,637.8)"><text transform="translate(0,0) scale(0.8,1)" x="0" y="0" font-family='"Liberation Sans","Noto Sans CJK SC",sans-serif' font-size="13.4" fill="#000">BMV</text><text transform="scale(0.66,1)" x="39.26 60.38 81.5 102.62 123.74 144.86 165.98" y="0" font-family='"Liberation Serif","Noto Serif CJK SC",serif' font-size="13" font-weight="600" fill="#000">马达油口面形式</text></g>
<g transform="translate(603.4,658)"><text transform="scale(0.66,1)" x="-0.65 20.82 42.28 63.75 85.21 106.68" y="0" font-family='"Liberation Serif","Noto Serif CJK SC",serif' font-size="13" font-weight="600" fill="#000">具体尺寸详见</text><text transform="translate(81.78,0) scale(0.86,1)" x="0" y="0" font-family='"Liberation Sans","Noto Sans CJK SC",sans-serif' font-size="13.4" fill="#000">P118</text><text transform="scale(0.66,1)" x="167.63" y="0" font-family='"Liberation Serif","Noto Serif CJK SC",serif' font-size="13" font-weight="600" fill="#000">页</text><text transform="translate(122.01,0) scale(0.86,1)" x="0" y="0" font-family='"Liberation Sans","Noto Sans CJK SC",sans-serif' font-size="13.4" fill="#000">1~4</text><text transform="scale(0.66,1)" x="218.71" y="0" font-family='"Liberation Serif","Noto Serif CJK SC",serif' font-size="13" font-weight="600" fill="#000">型</text></g>
</g>
<g id="rightview">
<rect x="850.2" y="137.6" width="168.4" height="168" rx="13" fill="none" stroke="#0a0a0a" stroke-width="1.5"/>
<circle cx="934.5" cy="221.6" r="75.9" fill="none" stroke="#0a0a0a" stroke-width="1.5"/>
<circle cx="934.5" cy="221.6" r="59.5" fill="none" stroke="#0a0a0a" stroke-width="1.5"/>
<circle cx="934.5" cy="221.6" r="38.3" fill="none" stroke="#0a0a0a" stroke-width="1.5"/>
<circle cx="934.5" cy="221.6" r="21" fill="none" stroke="#0a0a0a" stroke-width="1.5"/>
<path d="M1018.03,177.19 A94.6,94.6 0 0 0 978.91,138.07" fill="none" stroke="#0a0a0a" stroke-width="0.85"/>
<path d="M890.09,138.07 A94.6,94.6 0 0 0 850.97,177.19" fill="none" stroke="#0a0a0a" stroke-width="0.85"/>
<path d="M850.97,266.01 A94.6,94.6 0 0 0 890.09,305.13" fill="none" stroke="#0a0a0a" stroke-width="0.85"/>
<path d="M978.91,305.13 A94.6,94.6 0 0 0 1018.03,266.01" fill="none" stroke="#0a0a0a" stroke-width="0.85"/>
<path d="M1028.18,208.43 A94.6,94.6 0 0 0 1018.03,177.19" fill="none" stroke="#0a0a0a" stroke-width="0.85"/>
<path d="M840.82,234.77 A94.6,94.6 0 0 0 851.76,267.46" fill="none" stroke="#0a0a0a" stroke-width="0.85"/>
<circle cx="867.6" cy="155" r="8.1" fill="none" stroke="#0a0a0a" stroke-width="1.3"/>
<circle cx="867.6" cy="288.2" r="8.1" fill="none" stroke="#0a0a0a" stroke-width="1.3"/>
<circle cx="1001.4" cy="155" r="8.1" fill="none" stroke="#0a0a0a" stroke-width="1.3"/>
<circle cx="1001.4" cy="288.2" r="8.1" fill="none" stroke="#0a0a0a" stroke-width="1.3"/>
<circle cx="934.5" cy="167.9" r="4.4" fill="none" stroke="#0a0a0a" stroke-width="2.4"/>
<circle cx="934.5" cy="167.9" r="1.8" fill="none" stroke="#0a0a0a" stroke-width="1.0"/>
<circle cx="887.99" cy="194.75" r="4.4" fill="none" stroke="#0a0a0a" stroke-width="2.4"/>
<circle cx="887.99" cy="194.75" r="1.8" fill="none" stroke="#0a0a0a" stroke-width="1.0"/>
<circle cx="887.99" cy="248.45" r="4.4" fill="none" stroke="#0a0a0a" stroke-width="2.4"/>
<circle cx="887.99" cy="248.45" r="1.8" fill="none" stroke="#0a0a0a" stroke-width="1.0"/>
<circle cx="934.5" cy="275.3" r="4.4" fill="none" stroke="#0a0a0a" stroke-width="2.4"/>
<circle cx="934.5" cy="275.3" r="1.8" fill="none" stroke="#0a0a0a" stroke-width="1.0"/>
<circle cx="981.01" cy="248.45" r="4.4" fill="none" stroke="#0a0a0a" stroke-width="2.4"/>
<circle cx="981.01" cy="248.45" r="1.8" fill="none" stroke="#0a0a0a" stroke-width="1.0"/>
<circle cx="981.01" cy="194.75" r="4.4" fill="none" stroke="#0a0a0a" stroke-width="2.4"/>
<circle cx="981.01" cy="194.75" r="1.8" fill="none" stroke="#0a0a0a" stroke-width="1.0"/>
<polyline points="928,200.4 928,195.9 941.1,195.9 941.1,200.4" fill="none" stroke="#0a0a0a" stroke-width="1.3" stroke-linejoin="miter"/>
<circle cx="934.5" cy="221.6" r="5" fill="none" stroke="#0a0a0a" stroke-width="2.6"/>
<line x1="931.5" y1="218.6" x2="937.5" y2="224.6" stroke="#0a0a0a" stroke-width="0.8" stroke-linecap="butt"/>
<line x1="931.5" y1="224.6" x2="937.5" y2="218.6" stroke="#0a0a0a" stroke-width="0.8" stroke-linecap="butt"/>
<line x1="934.5" y1="131.8" x2="934.5" y2="316.6" stroke="#0a0a0a" stroke-width="0.85" stroke-dasharray="23.5 3.3 4 3.6" stroke-linecap="butt"/>
<line x1="837.8" y1="221.6" x2="1026.7" y2="221.6" stroke="#0a0a0a" stroke-width="0.85" stroke-dasharray="23.5 3.3 4 3.6" stroke-linecap="butt"/>
<line x1="855.61" y1="142.71" x2="1013.39" y2="300.49" stroke="#0a0a0a" stroke-width="0.85" stroke-dasharray="9 2 1.5 2" stroke-linecap="butt"/>
<line x1="855.61" y1="300.49" x2="1013.39" y2="142.71" stroke="#0a0a0a" stroke-width="0.85" stroke-dasharray="9 2 1.5 2" stroke-linecap="butt"/>
<line x1="1025.3" y1="195.05" x2="828.6" y2="253.1" stroke="#0a0a0a" stroke-width="0.85" stroke-linecap="butt"/>
<line x1="828.6" y1="253.1" x2="806" y2="253.1" stroke="#0a0a0a" stroke-width="0.85" stroke-linecap="butt"/>
<polygon points="1025.3,195.05 1019.37,197.93 1018.75,195.82" fill="#0a0a0a"/>
<polygon points="843.7,248.15 849.63,245.27 850.25,247.38" fill="#0a0a0a"/>
<text transform="translate(806.9,248.2) scale(0.88,1)" font-family='"Liberation Sans","Noto Sans CJK SC",sans-serif' font-size="10.9" fill="#000"><tspan font-style="italic" font-size="10.03">ϕ</tspan>200</text>
<g transform="translate(801.8,268.2)"><text transform="scale(0.66,1)" x="-0.57 17.71 35.99" y="0" font-family='"Liberation Serif","Noto Serif CJK SC",serif' font-size="11.4" font-weight="600" fill="#000">分布圆</text></g>
<polyline points="792.1,310.6 833.6,310.6 880.4,279.5" fill="none" stroke="#0a0a0a" stroke-width="0.85" stroke-linejoin="miter"/>
<polygon points="860.9,292.8 856.09,297.3 854.87,295.47" fill="#0a0a0a"/>
<polygon points="874.3,283.9 879.11,279.4 880.33,281.23" fill="#0a0a0a"/>
<text transform="translate(795.4,306.4) scale(0.88,1)" font-family='"Liberation Sans","Noto Sans CJK SC",sans-serif' font-size="10.9" fill="#000">4–<tspan font-style="italic" font-size="10.03">ϕ</tspan>18</text>
<g transform="translate(798.3,324.4)"><text transform="scale(0.66,1)" x="-0.57 17.18 34.93" y="0" font-family='"Liberation Serif","Noto Serif CJK SC",serif' font-size="11.4" font-weight="600" fill="#000">安装孔</text></g>
<line x1="850.2" y1="292" x2="850.2" y2="362" stroke="#0a0a0a" stroke-width="0.85" stroke-linecap="butt"/>
<line x1="1018.6" y1="292" x2="1018.6" y2="362" stroke="#0a0a0a" stroke-width="0.85" stroke-linecap="butt"/>
<line x1="850.2" y1="358.6" x2="1018.6" y2="358.6" stroke="#0a0a0a" stroke-width="0.85" stroke-linecap="butt"/>
<polygon points="850.2,358.6 858.6,357.1 858.6,360.1" fill="#0a0a0a"/>
<polygon points="1018.6,358.6 1010.2,360.1 1010.2,357.1" fill="#0a0a0a"/>
<rect x="908.2" y="346" width="8.6" height="8.8" rx="0" fill="none" stroke="#0a0a0a" stroke-width="1.0"/>
<text transform="translate(917.6,354.6) scale(0.84,1)" text-anchor="start" font-family='"Liberation Sans","Noto Sans CJK SC",sans-serif' font-size="11.3" fill="#000">178X178</text>
<g transform="translate(918.4,98.8)"><text transform="translate(0,0) scale(0.8,1)" x="0" y="0" font-family='"Liberation Sans","Noto Sans CJK SC",sans-serif' font-size="12.2" fill="#000">F</text><text transform="scale(0.66,1)" x="13.9 35.83" y="0" font-family='"Liberation Serif","Noto Serif CJK SC",serif' font-size="12.2" font-weight="600" fill="#000">法兰</text></g>
<line x1="905.4" y1="103.4" x2="957.4" y2="103.4" stroke="#0a0a0a" stroke-width="0.85" stroke-linecap="butt"/>
<g transform="translate(903.2,119.6)"><text transform="scale(0.66,1)" x="-0.63 20.15 40.93 61.71" y="0" font-family='"Liberation Serif","Noto Serif CJK SC",serif' font-size="12.6" font-weight="600" fill="#000">大方法兰</text><text transform="translate(52.94,0) scale(0.8,1)" x="0" y="0" font-family='"Liberation Sans","Noto Sans CJK SC",sans-serif' font-size="12.4" fill="#000">I</text><text transform="scale(0.66,1)" x="90.3" y="0" font-family='"Liberation Serif","Noto Serif CJK SC",serif' font-size="12.6" font-weight="600" fill="#000">型</text></g>
</g>
<g id="table">
<rect x="171.6" y="424.8" width="212.9" height="184.2" rx="0" fill="none" stroke="#0a0a0a" stroke-width="1.0"/>
<line x1="265.5" y1="424.8" x2="265.5" y2="609" stroke="#0a0a0a" stroke-width="0.9" stroke-linecap="butt"/>
<line x1="299.2" y1="424.8" x2="299.2" y2="609" stroke="#0a0a0a" stroke-width="0.9" stroke-linecap="butt"/>
<line x1="340.6" y1="424.8" x2="340.6" y2="609" stroke="#0a0a0a" stroke-width="0.9" stroke-linecap="butt"/>
<line x1="171.6" y1="461.3" x2="384.5" y2="461.3" stroke="#0a0a0a" stroke-width="0.9" stroke-linecap="butt"/>
<line x1="171.6" y1="482.4" x2="384.5" y2="482.4" stroke="#0a0a0a" stroke-width="0.9" stroke-linecap="butt"/>
<line x1="171.6" y1="503.5" x2="384.5" y2="503.5" stroke="#0a0a0a" stroke-width="0.9" stroke-linecap="butt"/>
<line x1="171.6" y1="524.6" x2="384.5" y2="524.6" stroke="#0a0a0a" stroke-width="0.9" stroke-linecap="butt"/>
<line x1="171.6" y1="545.7" x2="384.5" y2="545.7" stroke="#0a0a0a" stroke-width="0.9" stroke-linecap="butt"/>
<line x1="171.6" y1="566.8" x2="384.5" y2="566.8" stroke="#0a0a0a" stroke-width="0.9" stroke-linecap="butt"/>
<line x1="171.6" y1="587.9" x2="384.5" y2="587.9" stroke="#0a0a0a" stroke-width="0.9" stroke-linecap="butt"/>
<line x1="171.6" y1="424.8" x2="265.5" y2="461.3" stroke="#0a0a0a" stroke-width="0.8" stroke-linecap="butt"/>
<g transform="translate(231.6,440.8)"><text transform="scale(0.68,1)" x="-0.65 22.8" y="0" font-family='"Liberation Serif","Noto Serif CJK SC",serif' font-size="13" font-weight="600" fill="#000">尺寸</text></g>
<g transform="translate(176,456.6)"><text transform="scale(0.66,1)" x="-0.63 18.76" y="0" font-family='"Liberation Serif","Noto Serif CJK SC",serif' font-size="12.6" font-weight="600" fill="#000">排量</text><text transform="translate(22.94,0) scale(0.98,1)" x="0" y="0" font-family='"Liberation Sans","Noto Sans CJK SC",sans-serif' font-size="13.2" fill="#000"> cc/r</text></g>
<text transform="translate(273.4,447.3) scale(0.8,1)" text-anchor="start" font-family='"Liberation Sans","Noto Sans CJK SC",sans-serif' font-size="13.1" fill="#000">H1</text>
<text transform="translate(311.5,447.3) scale(0.8,1)" text-anchor="start" font-family='"Liberation Sans","Noto Sans CJK SC",sans-serif' font-size="13.1" fill="#000">H</text>
<text transform="translate(353.6,447.3) scale(0.8,1)" text-anchor="start" font-family='"Liberation Sans","Noto Sans CJK SC",sans-serif' font-size="13.1" fill="#000">L</text>
<text transform="translate(191.6,478) scale(0.9,1)" text-anchor="start" font-family='"Liberation Sans","Noto Sans CJK SC",sans-serif' font-size="13.1" fill="#000">BMV–250</text>
<text transform="translate(281,478) scale(0.93,1)" text-anchor="middle" font-family='"Liberation Sans","Noto Sans CJK SC",sans-serif' font-size="13.1" fill="#000">18</text>
<text transform="translate(318.8,478) scale(0.93,1)" text-anchor="middle" font-family='"Liberation Sans","Noto Sans CJK SC",sans-serif' font-size="13.1" fill="#000">212</text>
<text transform="translate(362.6,478) scale(0.93,1)" text-anchor="middle" font-family='"Liberation Sans","Noto Sans CJK SC",sans-serif' font-size="13.1" fill="#000">112</text>
<text transform="translate(191.6,499.1) scale(0.9,1)" text-anchor="start" font-family='"Liberation Sans","Noto Sans CJK SC",sans-serif' font-size="13.1" fill="#000">BMV–315</text>
<text transform="translate(281,499.1) scale(0.93,1)" text-anchor="middle" font-family='"Liberation Sans","Noto Sans CJK SC",sans-serif' font-size="13.1" fill="#000">23</text>
<text transform="translate(318.8,499.1) scale(0.93,1)" text-anchor="middle" font-family='"Liberation Sans","Noto Sans CJK SC",sans-serif' font-size="13.1" fill="#000">217</text>
<text transform="translate(362.6,499.1) scale(0.93,1)" text-anchor="middle" font-family='"Liberation Sans","Noto Sans CJK SC",sans-serif' font-size="13.1" fill="#000">117</text>
<text transform="translate(191.6,520.2) scale(0.9,1)" text-anchor="start" font-family='"Liberation Sans","Noto Sans CJK SC",sans-serif' font-size="13.1" fill="#000">BMV–400</text>
<text transform="translate(281,520.2) scale(0.93,1)" text-anchor="middle" font-family='"Liberation Sans","Noto Sans CJK SC",sans-serif' font-size="13.1" fill="#000">31</text>
<text transform="translate(318.8,520.2) scale(0.93,1)" text-anchor="middle" font-family='"Liberation Sans","Noto Sans CJK SC",sans-serif' font-size="13.1" fill="#000">225</text>
<text transform="translate(362.6,520.2) scale(0.93,1)" text-anchor="middle" font-family='"Liberation Sans","Noto Sans CJK SC",sans-serif' font-size="13.1" fill="#000">125</text>
<text transform="translate(191.6,541.3) scale(0.9,1)" text-anchor="start" font-family='"Liberation Sans","Noto Sans CJK SC",sans-serif' font-size="13.1" fill="#000">BMV–500</text>
<text transform="translate(281,541.3) scale(0.93,1)" text-anchor="middle" font-family='"Liberation Sans","Noto Sans CJK SC",sans-serif' font-size="13.1" fill="#000">39</text>
<text transform="translate(318.8,541.3) scale(0.93,1)" text-anchor="middle" font-family='"Liberation Sans","Noto Sans CJK SC",sans-serif' font-size="13.1" fill="#000">233</text>
<text transform="translate(362.6,541.3) scale(0.93,1)" text-anchor="middle" font-family='"Liberation Sans","Noto Sans CJK SC",sans-serif' font-size="13.1" fill="#000">133</text>
<text transform="translate(191.6,562.4) scale(0.9,1)" text-anchor="start" font-family='"Liberation Sans","Noto Sans CJK SC",sans-serif' font-size="13.1" fill="#000">BMV–630</text>
<text transform="translate(281,562.4) scale(0.93,1)" text-anchor="middle" font-family='"Liberation Sans","Noto Sans CJK SC",sans-serif' font-size="13.1" fill="#000">49</text>
<text transform="translate(318.8,562.4) scale(0.93,1)" text-anchor="middle" font-family='"Liberation Sans","Noto Sans CJK SC",sans-serif' font-size="13.1" fill="#000">243</text>
<text transform="translate(362.6,562.4) scale(0.93,1)" text-anchor="middle" font-family='"Liberation Sans","Noto Sans CJK SC",sans-serif' font-size="13.1" fill="#000">143</text>
<text transform="translate(191.6,583.5) scale(0.9,1)" text-anchor="start" font-family='"Liberation Sans","Noto Sans CJK SC",sans-serif' font-size="13.1" fill="#000">BMV–800</text>
<text transform="translate(281,583.5) scale(0.93,1)" text-anchor="middle" font-family='"Liberation Sans","Noto Sans CJK SC",sans-serif' font-size="13.1" fill="#000">63</text>
<text transform="translate(318.8,583.5) scale(0.93,1)" text-anchor="middle" font-family='"Liberation Sans","Noto Sans CJK SC",sans-serif' font-size="13.1" fill="#000">257</text>
<text transform="translate(362.6,583.5) scale(0.93,1)" text-anchor="middle" font-family='"Liberation Sans","Noto Sans CJK SC",sans-serif' font-size="13.1" fill="#000">157</text>
<text transform="translate(191.6,604.6) scale(0.9,1)" text-anchor="start" font-family='"Liberation Sans","Noto Sans CJK SC",sans-serif' font-size="13.1" fill="#000">BMV–1000</text>
<text transform="translate(281,604.6) scale(0.93,1)" text-anchor="middle" font-family='"Liberation Sans","Noto Sans CJK SC",sans-serif' font-size="13.1" fill="#000">80</text>
<text transform="translate(318.8,604.6) scale(0.93,1)" text-anchor="middle" font-family='"Liberation Sans","Noto Sans CJK SC",sans-serif' font-size="13.1" fill="#000">274</text>
<text transform="translate(362.6,604.6) scale(0.93,1)" text-anchor="middle" font-family='"Liberation Sans","Noto Sans CJK SC",sans-serif' font-size="13.1" fill="#000">174</text>
</g>
<g id="thread">
<g transform="translate(787.4,406)"><text transform="scale(0.64,1)" x="-0.62 18.15 36.91 55.68 74.44 93.21 111.97" y="0" font-family='"Liberation Serif","Noto Serif CJK SC",serif' font-size="12.4" font-weight="600" fill="#000">泄油口常用螺纹</text><text transform="translate(81.63,0) scale(0.82,1)" x="0" y="0" font-family='"Liberation Sans","Noto Sans CJK SC",sans-serif' font-size="13" fill="#000">T</text><text transform="scale(0.64,1)" x="140.91 159.68" y="0" font-family='"Liberation Serif","Noto Serif CJK SC",serif' font-size="12.4" font-weight="600" fill="#000">（深</text><text transform="translate(112.17,0) scale(0.82,1)" x="0" y="0" font-family='"Liberation Sans","Noto Sans CJK SC",sans-serif' font-size="13" fill="#000">13</text><text transform="scale(0.64,1)" x="196.97" y="0" font-family='"Liberation Serif","Noto Serif CJK SC",serif' font-size="12.4" font-weight="600" fill="#000">）</text></g>
<rect x="811.4" y="416.3" width="66.2" height="47.3" rx="0" fill="none" stroke="#1a1a1a" stroke-width="1.3"/>
<line x1="811.4" y1="439.9" x2="877.6" y2="439.9" stroke="#1a1a1a" stroke-width="1.3" stroke-linecap="butt"/>
<path d="M811.4,463.6 V511.1 H877.6 V463.6" fill="none" stroke="#555" stroke-width="0.9"/>
<line x1="811.4" y1="487.2" x2="877.6" y2="487.2" stroke="#555" stroke-width="0.9" stroke-linecap="butt"/>
<text transform="translate(815.4,431.6) scale(0.82,1)" text-anchor="start" font-family='"Liberation Sans","Noto Sans CJK SC",sans-serif' font-size="13.1" fill="#000">M14X1.5</text>
<text transform="translate(815.4,455.2) scale(0.82,1)" text-anchor="start" font-family='"Liberation Sans","Noto Sans CJK SC",sans-serif' font-size="13.1" fill="#000">G1/4</text>
<text transform="translate(815.4,478.9) scale(0.82,1)" text-anchor="start" font-family='"Liberation Sans","Noto Sans CJK SC",sans-serif' font-size="13.1" fill="#000">7/16–20UNF</text>
<text transform="translate(815.4,502.5) scale(0.82,1)" text-anchor="start" font-family='"Liberation Sans","Noto Sans CJK SC",sans-serif' font-size="13.1" fill="#000">9/16–18UNC</text>
</g>
<g id="hyd">
<rect x="961.1" y="431.7" width="80.3" height="75.9" rx="0" fill="none" stroke="#5a5a5a" stroke-width="1.1" stroke-dasharray="3.6 1.6"/>
<path d="M971,467.2 V444.2 H1029.4 V467.2" fill="none" stroke="#5a5a5a" stroke-width="0.9" stroke-dasharray="3.6 1.6"/>
<line x1="1000.5" y1="413" x2="1000.5" y2="452.4" stroke="#5a5a5a" stroke-width="0.9" stroke-dasharray="3.6 1.6" stroke-linecap="butt"/>
<line x1="946.7" y1="467.2" x2="985.8" y2="467.2" stroke="#0a0a0a" stroke-width="1.0" stroke-linecap="butt"/>
<line x1="1015.2" y1="467.2" x2="1060" y2="467.2" stroke="#0a0a0a" stroke-width="1.0" stroke-linecap="butt"/>
<circle cx="1000.5" cy="467.2" r="14.7" fill="#fff" stroke="#0a0a0a" stroke-width="1.3"/>
<polygon points="985.9,463.0 992.6,467.2 985.9,471.4" fill="#000"/>
<polygon points="1015.1,463.0 1008.4,467.2 1015.1,471.4" fill="#000"/>
<circle cx="971" cy="467.2" r="1.7" fill="#000" stroke="#0a0a0a" stroke-width="0.5"/>
<circle cx="1029.4" cy="467.2" r="1.7" fill="#000" stroke="#0a0a0a" stroke-width="0.5"/>
<circle cx="1000.5" cy="444.2" r="1.6" fill="#000" stroke="#0a0a0a" stroke-width="0.5"/>
<circle cx="982.8" cy="444.2" r="2.2" fill="#fff" stroke="#0a0a0a" stroke-width="1.1"/>
<polyline points="980.6,445.6 982.8,448 985,445.6" fill="none" stroke="#0a0a0a" stroke-width="0.9" stroke-linejoin="miter"/>
<circle cx="1017.8" cy="444.2" r="2.2" fill="#fff" stroke="#0a0a0a" stroke-width="1.1"/>
<polyline points="1015.6,445.6 1017.8,448 1020,445.6" fill="none" stroke="#0a0a0a" stroke-width="0.9" stroke-linejoin="miter"/>
<line x1="998.1" y1="409" x2="1002.9" y2="413.8" stroke="#0a0a0a" stroke-width="1.2" stroke-linecap="butt"/>
<line x1="998.1" y1="413.8" x2="1002.9" y2="409" stroke="#0a0a0a" stroke-width="1.2" stroke-linecap="butt"/>
<text transform="translate(1007.6,412) scale(0.84,1)" text-anchor="middle" font-family='"Liberation Sans","Noto Sans CJK SC",sans-serif' font-size="11.3" fill="#000">T</text>
<text transform="translate(943.4,462.4) scale(0.84,1)" text-anchor="middle" font-family='"Liberation Sans","Noto Sans CJK SC",sans-serif' font-size="11.6" fill="#000">A</text>
<text transform="translate(1056.4,462.4) scale(0.84,1)" text-anchor="middle" font-family='"Liberation Sans","Noto Sans CJK SC",sans-serif' font-size="11.6" fill="#000">B</text>
<line x1="998.7" y1="481.6" x2="998.7" y2="536.7" stroke="#0a0a0a" stroke-width="1.0" stroke-linecap="butt"/>
<line x1="1002.4" y1="481.6" x2="1002.4" y2="536.7" stroke="#0a0a0a" stroke-width="1.0" stroke-linecap="butt"/>
<path d="M984,527.6 Q1000.5,510.6 1017.6,528.4" fill="none" stroke="#0a0a0a" stroke-width="0.9"/>
<polygon points="981.6,530.4 985.82,522.8 988.53,525.17" fill="#0a0a0a"/>
<polygon points="1020,531.4 1012.97,526.29 1015.65,523.88" fill="#0a0a0a"/>
</g>
<g transform="translate(773.6,546.4)"><text transform="scale(0.66,1)" x="-0.66 20 40.66 61.32 81.98 102.64 123.3 143.96 164.62 185.28 205.94" y="0" font-family='"Liberation Serif","Noto Serif CJK SC",serif' font-size="13.2" font-weight="600" fill="#000">输出轴的旋转方向：标准</text></g>
<g transform="translate(773.6,573.8)"><text transform="scale(0.66,1)" x="-0.66 19.95 40.55 61.16 81.76 102.37 122.98" y="0" font-family='"Liberation Serif","Noto Serif CJK SC",serif' font-size="13.2" font-weight="600" fill="#000">面对输出轴，当</text><text transform="translate(92.32,0) scale(0.82,1)" x="0" y="0" font-family='"Liberation Sans","Noto Sans CJK SC",sans-serif' font-size="13.4" fill="#000">A</text><text transform="scale(0.66,1)" x="154.69 175.29 195.9 216.51 237.11" y="0" font-family='"Liberation Serif","Noto Serif CJK SC",serif' font-size="13.2" font-weight="600" fill="#000">油口进油，</text><text transform="translate(167.65,0) scale(0.82,1)" x="0" y="0" font-family='"Liberation Sans","Noto Sans CJK SC",sans-serif' font-size="13.4" fill="#000">B</text><text transform="scale(0.66,1)" x="268.82 289.43 310.04 330.64 351.25 371.85 392.46 413.07 433.67 454.28 474.88 495.49" y="0" font-family='"Liberation Serif","Noto Serif CJK SC",serif' font-size="13.2" font-weight="600" fill="#000">油口回油时马达顺时针旋转</text></g>
<g transform="translate(773.6,599.2)"><text transform="scale(0.66,1)" x="-0.66" y="0" font-family='"Liberation Serif","Noto Serif CJK SC",serif' font-size="13.2" font-weight="600" fill="#000">当</text><text transform="translate(10.75,0) scale(0.82,1)" x="0" y="0" font-family='"Liberation Sans","Noto Sans CJK SC",sans-serif' font-size="13.4" fill="#000">B</text><text transform="scale(0.66,1)" x="31.14 51.83 72.52 93.21 113.9" y="0" font-family='"Liberation Serif","Noto Serif CJK SC",serif' font-size="13.2" font-weight="600" fill="#000">油口进油，</text><text transform="translate(86.36,0) scale(0.82,1)" x="0" y="0" font-family='"Liberation Sans","Noto Sans CJK SC",sans-serif' font-size="13.4" fill="#000">A</text><text transform="scale(0.66,1)" x="145.69 166.38 187.07 207.77 228.46 249.15 269.84" y="0" font-family='"Liberation Serif","Noto Serif CJK SC",serif' font-size="13.2" font-weight="600" fill="#000">油口回油时马达</text><text transform="translate(189.28,0) scale(0.82,1)" x="0" y="0" font-family='"Liberation Sans","Noto Sans CJK SC",sans-serif' font-size="13.4" fill="#000"> </text><text transform="scale(0.66,1)" x="295.15 315.84 336.53 357.22 377.91" y="0" font-family='"Liberation Serif","Noto Serif CJK SC",serif' font-size="13.2" font-weight="600" fill="#000">逆时针旋转</text></g>
</svg>
</body>
</html>
